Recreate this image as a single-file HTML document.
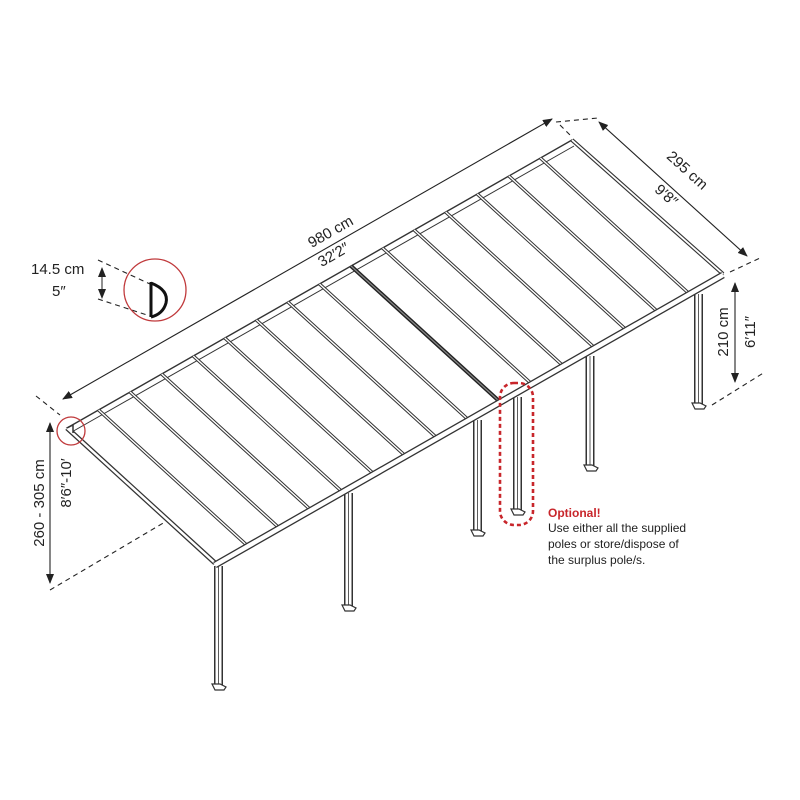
<!DOCTYPE html>
<html><head><meta charset="utf-8"><style>
html,body{margin:0;padding:0;background:#fff;width:800px;height:800px;overflow:hidden}
svg{display:block}
text{font-family:"Liberation Sans",sans-serif;fill:#222}
</style></head><body>
<svg width="800" height="800" viewBox="0 0 800 800">
<defs>
<marker id="a" markerWidth="10" markerHeight="8" refX="9" refY="4" orient="auto" markerUnits="userSpaceOnUse"><path d="M0,0 L10,4 L0,8 z" fill="#222"/></marker>
<marker id="b" markerWidth="10" markerHeight="8" refX="1" refY="4" orient="auto" markerUnits="userSpaceOnUse"><path d="M10,0 L0,4 L10,8 z" fill="#222"/></marker>
</defs>
<g stroke="#333" fill="none">
<g id="posts">
<line x1="218.5" y1="566" x2="218.5" y2="686" stroke-width="9"/><line x1="218.5" y1="566" x2="218.5" y2="686" stroke="#fff" stroke-width="6"/><line x1="218.5" y1="566" x2="218.5" y2="686" stroke-width="0.8"/>
<line x1="348.5" y1="493" x2="348.5" y2="607" stroke-width="9"/><line x1="348.5" y1="493" x2="348.5" y2="607" stroke="#fff" stroke-width="6"/><line x1="348.5" y1="493" x2="348.5" y2="607" stroke-width="0.8"/>
<line x1="477.5" y1="420" x2="477.5" y2="532" stroke-width="9"/><line x1="477.5" y1="420" x2="477.5" y2="532" stroke="#fff" stroke-width="6"/><line x1="477.5" y1="420" x2="477.5" y2="532" stroke-width="0.8"/>
<line x1="517.5" y1="397" x2="517.5" y2="511" stroke-width="9"/><line x1="517.5" y1="397" x2="517.5" y2="511" stroke="#fff" stroke-width="6"/><line x1="517.5" y1="397" x2="517.5" y2="511" stroke-width="0.8"/>
<line x1="590" y1="356" x2="590" y2="467" stroke-width="9"/><line x1="590" y1="356" x2="590" y2="467" stroke="#fff" stroke-width="6"/><line x1="590" y1="356" x2="590" y2="467" stroke-width="0.8"/>
<line x1="698.5" y1="294" x2="698.5" y2="405" stroke-width="9"/><line x1="698.5" y1="294" x2="698.5" y2="405" stroke="#fff" stroke-width="6"/><line x1="698.5" y1="294" x2="698.5" y2="405" stroke-width="0.8"/>
</g>
<g stroke-width="1.2" fill="#fff">
<path d="M212,684 l8,0 l6,3 l-2,3 l-9,0 z"/><path d="M342,605 l8,0 l6,3 l-2,3 l-9,0 z"/><path d="M471,530 l8,0 l6,3 l-2,3 l-9,0 z"/><path d="M511,509 l8,0 l6,3 l-2,3 l-9,0 z"/><path d="M584,465 l8,0 l6,3 l-2,3 l-9,0 z"/><path d="M692,403 l8,0 l6,3 l-2,3 l-9,0 z"/>
</g>
<polygon points="67,428 572,140 723,274 215,563" fill="#fff" stroke-width="1.4"/>
<line x1="70" y1="433" x2="574" y2="146" stroke-width="1"/>
<line x1="67" y1="428" x2="215" y2="563" stroke-width="5"/>
<line x1="67" y1="428" x2="215" y2="563" stroke="#fff" stroke-width="2.5"/>
<line x1="572" y1="140" x2="723" y2="274" stroke-width="4"/>
<line x1="572" y1="140" x2="723" y2="274" stroke="#fff" stroke-width="1.8"/>
<g stroke-width="3.4">
<line x1="98.6" y1="410" x2="246.6" y2="545"/><line x1="130.1" y1="392" x2="278.1" y2="527"/><line x1="161.7" y1="374" x2="309.7" y2="509"/><line x1="193.3" y1="356" x2="341.3" y2="491"/><line x1="224.8" y1="338" x2="372.8" y2="473"/><line x1="256.4" y1="320" x2="404.4" y2="455"/><line x1="287.9" y1="302" x2="435.9" y2="437"/><line x1="319.5" y1="284" x2="467.5" y2="419"/><line x1="382.6" y1="248" x2="530.6" y2="383"/><line x1="414.2" y1="230" x2="562.2" y2="365"/><line x1="445.7" y1="212" x2="593.7" y2="347"/><line x1="477.3" y1="194" x2="625.3" y2="329"/><line x1="508.9" y1="176" x2="656.9" y2="311"/><line x1="540.4" y1="158" x2="688.4" y2="293"/>
</g>
<g stroke="#fff" stroke-width="1.4">
<line x1="98.6" y1="410" x2="246.6" y2="545"/><line x1="130.1" y1="392" x2="278.1" y2="527"/><line x1="161.7" y1="374" x2="309.7" y2="509"/><line x1="193.3" y1="356" x2="341.3" y2="491"/><line x1="224.8" y1="338" x2="372.8" y2="473"/><line x1="256.4" y1="320" x2="404.4" y2="455"/><line x1="287.9" y1="302" x2="435.9" y2="437"/><line x1="319.5" y1="284" x2="467.5" y2="419"/><line x1="382.6" y1="248" x2="530.6" y2="383"/><line x1="414.2" y1="230" x2="562.2" y2="365"/><line x1="445.7" y1="212" x2="593.7" y2="347"/><line x1="477.3" y1="194" x2="625.3" y2="329"/><line x1="508.9" y1="176" x2="656.9" y2="311"/><line x1="540.4" y1="158" x2="688.4" y2="293"/>
</g>
<line x1="351" y1="266" x2="499" y2="401" stroke-width="4" stroke="#222"/>
<line x1="351" y1="266" x2="499" y2="401" stroke="#888" stroke-width="1.2"/>
<line x1="215" y1="565" x2="723" y2="275" stroke-width="7"/>
<line x1="215" y1="565" x2="723" y2="275" stroke="#fff" stroke-width="4.4"/>
<path d="M67,428 l6,-3 l0,8" stroke-width="1.5" fill="#fff"/>
<g stroke="#222" stroke-width="1.1">
<line x1="63" y1="399" x2="552" y2="119" marker-start="url(#b)" marker-end="url(#a)"/>
<line x1="599" y1="122" x2="747" y2="256" marker-start="url(#b)" marker-end="url(#a)"/>
<line x1="735" y1="283" x2="735" y2="382" marker-start="url(#b)" marker-end="url(#a)"/>
<line x1="50" y1="423" x2="50" y2="583" marker-start="url(#b)" marker-end="url(#a)"/>
<line x1="102" y1="268" x2="102" y2="298" stroke-width="1" marker-start="url(#b)" marker-end="url(#a)"/>
</g>
<g stroke="#222" stroke-width="1.1" stroke-dasharray="5,4">
<line x1="36" y1="396" x2="60" y2="415"/>
<line x1="556" y1="122" x2="598" y2="118"/>
<line x1="560" y1="125" x2="572" y2="137"/>
<line x1="730" y1="272" x2="760" y2="258"/>
<line x1="712" y1="405" x2="765" y2="372"/>
<line x1="50" y1="590" x2="165" y2="522"/>
<line x1="98" y1="260" x2="150" y2="284"/>
<line x1="98" y1="299" x2="150" y2="316"/>
</g>
<path d="M151,282 L151,317 M151,283 Q169,290 166,303 Q163,314 151,317" stroke="#111" stroke-width="3"/>
<circle cx="155" cy="290" r="31" stroke="#c0393b" stroke-width="1.3"/>
<circle cx="71" cy="431" r="14" stroke="#c0393b" stroke-width="1.3"/>
<rect x="500" y="383" width="33" height="142" rx="14" stroke="#c8262b" stroke-width="2.6" stroke-dasharray="4,3"/>
</g>
<g font-size="15">
<text transform="translate(333,236) rotate(-29.7)" text-anchor="middle">980 cm</text>
<text transform="translate(336,259) rotate(-29.7)" text-anchor="middle">32′2″</text>
<text transform="translate(684,174) rotate(42)" text-anchor="middle">295 cm</text>
<text transform="translate(663,199) rotate(42)" text-anchor="middle">9′8″</text>
<text transform="translate(728,332) rotate(-90)" text-anchor="middle">210 cm</text>
<text transform="translate(755,332) rotate(-90)" text-anchor="middle">6′11″</text>
<text transform="translate(44,503) rotate(-90)" text-anchor="middle">260 - 305 cm</text>
<text transform="translate(71,483) rotate(-90)" text-anchor="middle">8′6″-10′</text>
<text x="31" y="274">14.5 cm</text>
<text x="52" y="296">5″</text>
</g>
<g font-size="12">
<text x="548" y="517" font-weight="bold" style="fill:#c8262b">Optional!</text>
<text x="548" y="532">Use either all the supplied</text>
<text x="548" y="548">poles or store/dispose of</text>
<text x="548" y="564">the surplus pole/s.</text>
</g>
</svg>
</body></html>
